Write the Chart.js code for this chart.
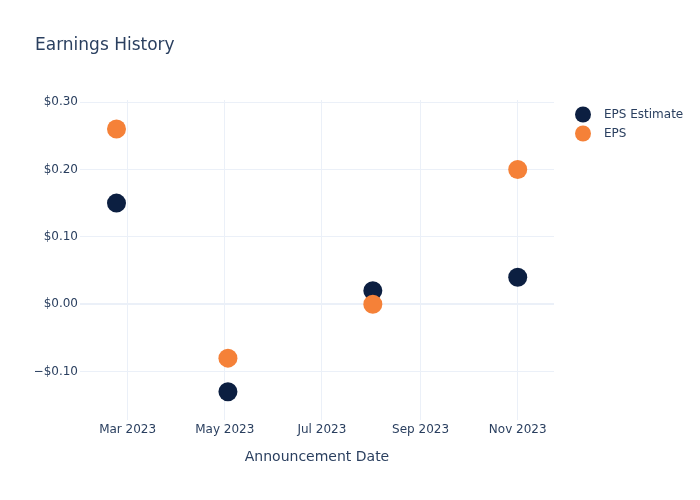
<!DOCTYPE html>
<html>
<head>
<meta charset="utf-8">
<title>Earnings History</title>
<script src="https://cdn.jsdelivr.net/npm/chart.js@4.4.1/dist/chart.umd.min.js"></script>
<style>
    body { margin: 0; background: #fff; }
    canvas { display: block; }
</style>
</head>
<body>
<canvas id="earningsChart" width="700" height="500"></canvas>
<script>
// data
const announceDates = ["2023-02-22", "2023-05-03", "2023-08-02", "2023-11-01"];
const epsEstimate = [0.15, -0.13, 0.02, 0.04];
const epsActual = [0.26, -0.08, 0.00, 0.20];

const xTickDates = ["2023-03-01", "2023-05-01", "2023-07-01", "2023-09-01", "2023-11-01"];
const xTickLabels = ["Mar 2023", "May 2023", "Jul 2023", "Sep 2023", "Nov 2023"];
const yTickValues = [-0.1, 0, 0.1, 0.2, 0.3];

const seriesNames = ["EPS Estimate", "EPS"];
const seriesColors = ["#0c1f41", "#f58138"];

const textColor = "#2a3f5f";
const gridColor = "#ebf0f8";
const fontFamily = "'DejaVu Sans', Verdana, sans-serif";

const HOUR = 3600 * 1000;

// -------------------------------
// helpers
// -------------------------------
function toTime(d) {
    return Date.parse(d); // yyyy-mm-dd -> UTC ms
}

function money(v) {
    const s = "$" + Math.abs(v).toFixed(2);
    return v < -1e-9 ? "\u2212" + s : s;
}

function points(values) {
    return announceDates.map((d, i) => ({ x: toTime(d), y: values[i] }));
}

// -------------------------------
// legend drawn by hand so it can sit away from the plot area
// -------------------------------
const sideLegend = {
    id: "sideLegend",
    afterDraw(chart) {
        const ctx = chart.ctx;
        ctx.save();
        ctx.font = "12px " + fontFamily;
        ctx.textBaseline = "middle";
        ctx.textAlign = "left";
        seriesNames.forEach((name, i) => {
            const y = 114.5 + i * 19;
            ctx.beginPath();
            ctx.arc(583, y, 8, 0, Math.PI * 2);
            ctx.fillStyle = seriesColors[i];
            ctx.fill();
            ctx.fillStyle = textColor;
            ctx.fillText(name, 604, y);
        });
        ctx.restore();
    }
};

const ctx = document.getElementById("earningsChart").getContext("2d");
new Chart(ctx, {
    type: "scatter",
    data: {
        datasets: [
            {
                label: seriesNames[0],
                data: points(epsEstimate),
                backgroundColor: seriesColors[0],
                borderWidth: 0,
                pointRadius: 9.5,
                pointHoverRadius: 9.5,
                order: 1
            },
            {
                label: seriesNames[1],
                data: points(epsActual),
                backgroundColor: seriesColors[1],
                borderWidth: 0,
                pointRadius: 9.5,
                pointHoverRadius: 9.5,
                order: 0
            }
        ]
    },
    options: {
        responsive: false,
        animation: false,
        devicePixelRatio: 1,
        layout: { padding: { left: 35, right: 146, top: 0, bottom: 0 } },
        plugins: {
            legend: { display: false },
            tooltip: { enabled: false },
            title: {
                display: true,
                text: "Earnings History",
                align: "start",
                color: textColor,
                font: { family: fontFamily, size: 17, weight: "normal" },
                padding: { top: 35.8, bottom: 43.8 }
            }
        },
        scales: {
            x: {
                type: "linear",
                min: toTime("2023-01-30") + 2 * HOUR,
                max: toTime("2023-11-23") + 19 * HOUR,
                border: { display: false },
                grid: { color: gridColor, lineWidth: 1, drawTicks: false },
                ticks: {
                    color: textColor,
                    font: { family: fontFamily, size: 12 },
                    padding: 3,
                    maxRotation: 0,
                    autoSkip: false,
                    callback: (value) => {
                        const i = xTickDates.findIndex(d => toTime(d) === value);
                        return i >= 0 ? xTickLabels[i] : "";
                    }
                },
                afterBuildTicks: (scale) => {
                    scale.ticks = xTickDates.map(d => ({ value: toTime(d) }));
                },
                afterFit: (scale) => { scale.height = 80; },
                title: {
                    display: true,
                    text: "Announcement Date",
                    color: textColor,
                    font: { family: fontFamily, size: 14 },
                    padding: { top: 34, bottom: 34 }
                }
            },
            y: {
                min: -0.1718,
                max: 0.303,
                border: { display: false },
                grid: {
                    drawTicks: false,
                    color: gridColor,
                    lineWidth: (c) => (c.tick && Math.abs(c.tick.value) < 1e-9 ? 2 : 1)
                },
                ticks: {
                    color: textColor,
                    font: { family: fontFamily, size: 12 },
                    padding: 2,
                    callback: (value) => money(value)
                },
                afterBuildTicks: (scale) => {
                    scale.ticks = yTickValues.map(v => ({ value: v }));
                },
                afterFit: (scale) => { scale.width = 45; }
            }
        }
    },
    plugins: [sideLegend]
});
</script>
</body>
</html>
